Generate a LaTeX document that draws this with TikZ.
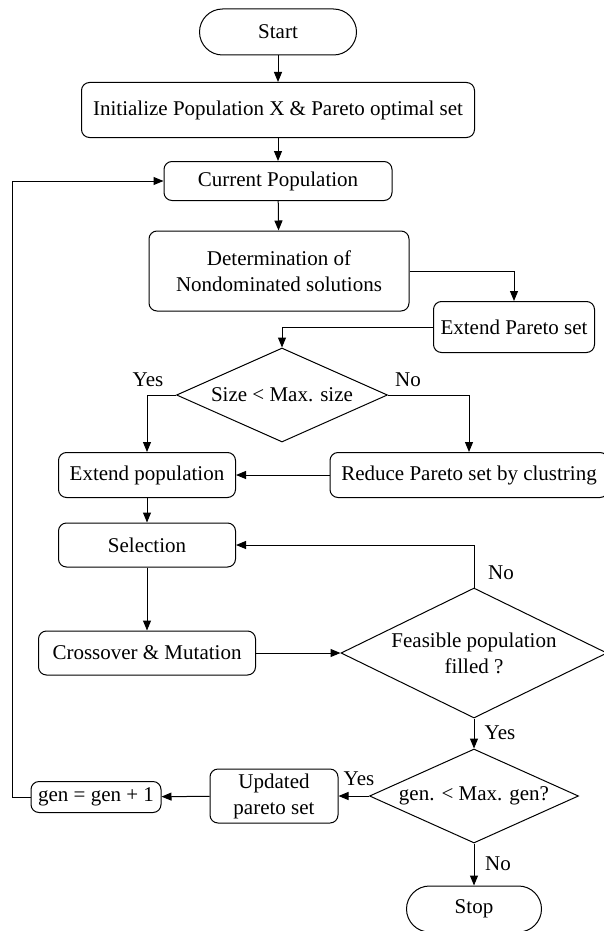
\documentclass[tikz,border=0pt]{standalone}
\usepackage{fontspec}
\setmainfont{Liberation Serif}
\usetikzlibrary{shapes.geometric,shapes.misc,arrows.meta}

\begin{document}
\begin{tikzpicture}[
    x=1pt, y=-1pt,
    every node/.style={font=\fontsize{21}{26}\selectfont},
    process/.style={
      draw,
      rounded corners=8pt,
      line width=1pt,
      align=center,
      inner sep=2pt
    },
    terminal/.style={
      draw,
      rounded rectangle,
      line width=1pt,
      inner sep=2pt
    },
    decision/.style={
      draw,
      diamond,
      line width=1pt,
      align=center,
      inner sep=0pt
    },
    answer/.style={inner sep=1pt},
    flow/.style={line width=1pt, -{Triangle[length=10pt,width=8pt]}}
  ]
    \useasboundingbox (0,0) rectangle (604,931);

    % main column
    \node[terminal, minimum width=161pt, minimum height=46pt] (start) at (278,32) {Start};
    \node[process, minimum width=393pt, minimum height=55pt] (init) at (278,110) {Initialize Population X \& Pareto optimal set};
    \node[process, minimum width=228pt, minimum height=39pt] (curpop) at (278,181) {Current Population};
    \node[process, minimum width=260pt, minimum height=80pt] (determ) at (279,271) {Determination of\\Nondominated solutions};
    \node[process, minimum width=161pt, minimum height=51pt] (extpareto) at (514,327) {Extend Pareto set};
    \node[decision, aspect=2.24, minimum width=211pt, minimum height=94pt] (sizetest) at (282,395) {Size < Max. size};
    \node[process, minimum width=177pt, minimum height=45pt] (extpop) at (147,475) {Extend population};
    \node[process, minimum width=278pt, minimum height=45pt] (reduce) at (469,475) {Reduce Pareto set by clustring};
    \node[process, minimum width=177pt, minimum height=44pt] (select) at (147,545) {Selection};
    \node[process, minimum width=217pt, minimum height=44pt] (cross) at (147,653) {Crossover \& Mutation};
    \node[decision, aspect=2.05, minimum width=266pt, minimum height=130pt] (feas) at (474,653) {Feasible population\\filled ?};
    \node[decision, aspect=2.22, minimum width=209pt, minimum height=94pt] (gentest) at (474,796) {gen. < Max. gen?};
    \node[process, minimum width=128pt, minimum height=54pt] (update) at (274,796) {Updated\\pareto set};
    \node[process, minimum width=130pt, minimum height=31pt] (gencount) at (96,797) {gen = gen + 1};
    \node[terminal, minimum width=139pt, minimum height=46pt] (stop) at (474,909) {Stop};

    % yes / no tags
    \node[answer] (yes1) at (148,380) {Yes};
    \node[answer] (no1) at (408,380) {No};
    \node[answer] (no2) at (501,573) {No};
    \node[answer] (yes2) at (500,733) {Yes};
    \node[answer] (yes3) at (359,779) {Yes};
    \node[answer] (no3) at (498,864) {No};

    % connectors
    \draw[flow] (start) -- (init);
    \draw[flow] (init) -- (curpop);
    \draw[flow] (curpop) -- (determ);
    \draw[flow] (determ.east) -| (extpareto.north);
    \draw[flow] (extpareto.west) -| (sizetest.north);
    \draw[flow] (sizetest.west) -| (extpop.north);
    \draw[flow] (sizetest.east) -| (reduce.north);
    \draw[flow] (reduce) -- (extpop);
    \draw[flow] (extpop) -- (select);
    \draw[flow] (select) -- (cross);
    \draw[flow] (cross) -- (feas);
    \draw[flow] (feas.north) |- (select.east);
    \draw[flow] (feas) -- (gentest);
    \draw[flow] (gentest) -- (update);
    \draw[flow] (update) -- (gencount);
    \draw[flow] (gencount.west) -- ++(-18,0) |- (curpop.west);
    \draw[flow] (gentest) -- (stop);
  \end{tikzpicture}
\end{document}
